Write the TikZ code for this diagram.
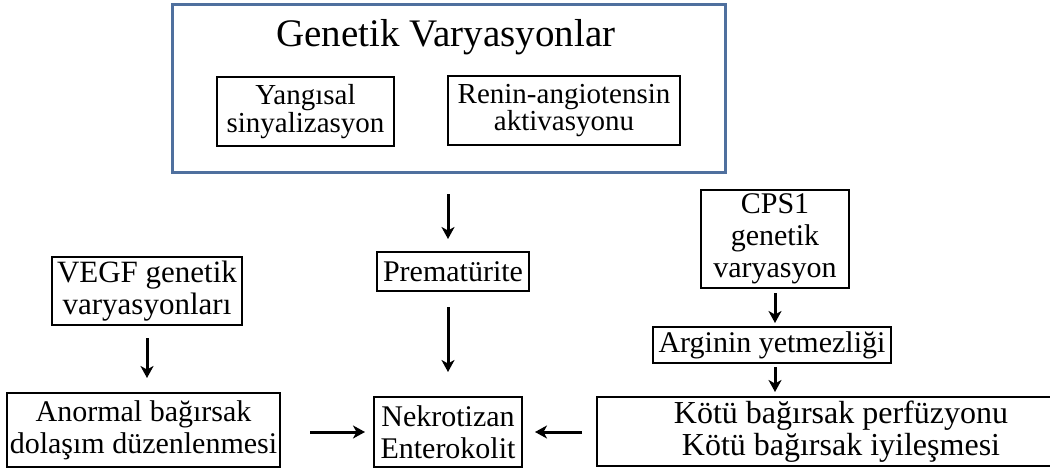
\documentclass[tikz,border=0pt]{standalone}
\usepackage{fontspec}
\setmainfont{Liberation Serif}
\usetikzlibrary{arrows.meta}
\definecolor{frameblue}{RGB}{79,112,158}
\tikzset{
  box/.style={draw=black, line width=1.6pt, inner sep=0pt, outer sep=0pt,
    align=center, font=\fontsize{30}{32}\selectfont},
  topbox/.style={box, font=\fontsize{29}{26}\selectfont},
  frame/.style={draw=frameblue, line width=3pt, inner sep=0pt, outer sep=0pt},
  arr/.style={line width=3pt, -{Stealth[length=12pt,width=13pt,inset=3.5pt]}}
}
\begin{document}
\begin{tikzpicture}[x=1pt,y=-1pt]
\useasboundingbox (0,0) rectangle (1050,468);
\clip (0,0) rectangle (1050,468);

% genetic variations frame and its contents
\node[frame, minimum width=553, minimum height=168] (top) at (448.5,88.5) {};
\node[font=\fontsize{39}{44}\selectfont] (title) at (446,37) {Genetik Varyasyonlar};
\node[topbox, minimum width=177, minimum height=69] (yang) at (305.5,111.5) {Yangısal\\sinyalizasyon};
\node[topbox, minimum width=232, minimum height=69] (renin) at (564,110.5) {Renin-angiotensin\\aktivasyonu};

% central chain
\node[box, minimum width=152, minimum height=39] (prem) at (453,271.5) {Prematürite};
\node[box, minimum width=148, minimum height=70] (nec) at (448,432) {Nekrotizan\\Enterokolit};

% left branch
\node[box, minimum width=190, minimum height=68, font=\fontsize{31}{32}\selectfont] (vegf) at (147,291) {VEGF genetik\\varyasyonları};
\node[box, minimum width=273, minimum height=74] (anor) at (143.5,430) {Anormal bağırsak\\dolaşım düzenlenmesi};

% right branch
\node[box, minimum width=148, minimum height=98] (cps) at (775,239) {CPS1\\genetik\\varyasyon};
\node[box, minimum width=238, minimum height=36] (arg) at (772,345) {Arginin yetmezliği};
\node[box, minimum width=488, minimum height=69, font=\fontsize{32}{32}\selectfont] (kotu) at (841,431.5) {Kötü bağırsak perfüzyonu\\Kötü bağırsak iyileşmesi};

% connectors
\draw[arr, shorten <=22pt, shorten >=13pt] (top.south -| nec.north) -- (prem.north -| nec.north);
\draw[arr, shorten <=16pt, shorten >=25pt] (prem.south -| nec.north) -- (nec.north);
\draw[arr, shorten <=13pt, shorten >=15pt] (vegf.south) -- (vegf.south |- anor.north);
\draw[arr, shorten <=30pt, shorten >=9pt] (anor.east |- nec.west) -- (nec.west);
\draw[arr, shorten <=15pt, shorten >=13pt] (kotu.west |- nec.east) -- (nec.east);
\draw[arr, shorten <=5pt, shorten >=4pt] (cps.south) -- (cps.south |- arg.north);
\draw[arr, shorten <=4pt, shorten >=5pt] (arg.south -| cps.south) -- (cps.south |- kotu.north);
\end{tikzpicture}
\end{document}
